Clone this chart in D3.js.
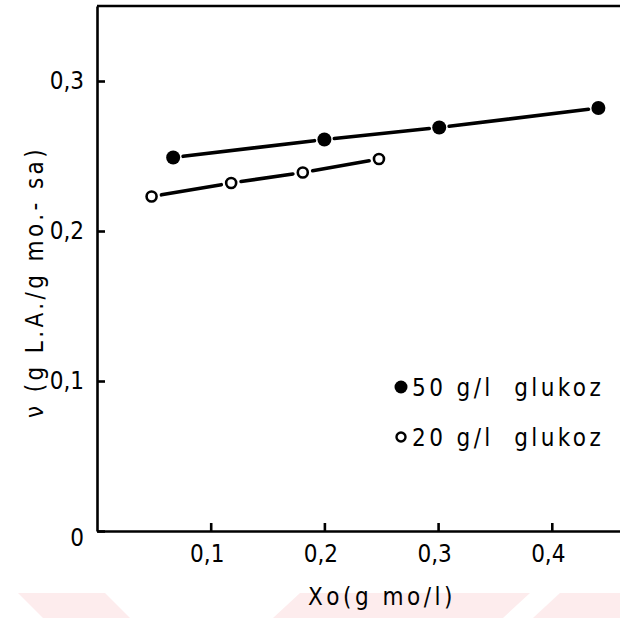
<!DOCTYPE html>
<html>
<head>
<meta charset="utf-8">
<script src="https://cdn.jsdelivr.net/npm/d3@7"></script>
<style>
  body { margin: 0; background: #fff; }
  svg { display: block; }
  text { font-family: "DejaVu Sans Condensed", "DejaVu Sans", sans-serif; fill: #000; }
</style>
</head>
<body>
<div id="chart"></div>
<script>
// values
var xTicks = [0.1, 0.2, 0.3, 0.4];
var yTicks = [0, 0.1, 0.2, 0.3];

var series50 = { label: "50 g/l  glukoz", filled: true,
    x: [0.067, 0.200, 0.301, 0.441],
    y: [0.249, 0.261, 0.269, 0.282] };
var series20 = { label: "20 g/l  glukoz", filled: false,
    x: [0.048, 0.118, 0.181, 0.248],
    y: [0.223, 0.232, 0.239, 0.248] };

var config = {
    width: 620,
    height: 618,
    left: 97,
    bottom: 531,
    top: 6,
    gap: 10,
    font: "'DejaVu Sans Condensed', 'DejaVu Sans', sans-serif",
    pink: "#fdeced"
};

// faint watermark strip at the bottom of the scan (page decoration, not data)
var watermark = [
    [[18, 593], [105, 593], [130, 618], [43, 618]],
    [[300, 593], [530, 593], [503, 618], [273, 618]],
    [[560, 593], [620, 593], [620, 618], [533, 618]]
];

var comma = function (d) { return d === 0 ? "0" : d3.format(".1f")(d).replace(".", ","); };

var svg = d3.select("#chart").append("svg")
    .attr("width", config.width)
    .attr("height", config.height);

svg.selectAll(".wm").data(watermark).enter().append("polygon")
    .attr("points", function (d) { return d.join(" "); })
    .attr("fill", config.pink);

var x = d3.scaleLinear().domain([0, 0.46]).range([config.left, config.width]);
var y = d3.scaleLinear().domain([0, 0.35]).range([config.bottom, config.top]);

// frame: top line
svg.append("line")
    .attr("x1", x(0)).attr("x2", x(0.46))
    .attr("y1", y(0.35)).attr("y2", y(0.35))
    .attr("stroke", "#000").attr("stroke-width", 2.6);

var yAxis = svg.append("g")
    .attr("transform", "translate(" + x(0) + ",0)")
    .call(d3.axisLeft(y).tickValues(yTicks).tickSize(-8).tickPadding(13)
        .tickSizeOuter(0).tickFormat(comma));
var xAxis = svg.append("g")
    .attr("transform", "translate(0," + y(0) + ")")
    .call(d3.axisBottom(x).tickValues(xTicks).tickSize(-8).tickPadding(14)
        .tickSizeOuter(0).tickFormat(comma));

[yAxis, xAxis].forEach(function (g) {
    g.select(".domain").attr("stroke", "#000").attr("stroke-width", 2.6);
    g.selectAll(".tick line").attr("stroke", "#000").attr("stroke-width", 2.6);
    g.selectAll(".tick text")
        .style("font-family", config.font)
        .style("font-size", "24px")
        .attr("fill", "#000");
});
yAxis.selectAll(".tick text").filter(function (d) { return d === 0; }).attr("dy", "0.6em");
xAxis.selectAll(".tick text").attr("dx", "-4");

// series: hand drawn segments stopping short of each marker
function drawSeries(s) {
    var pts = s.x.map(function (v, i) { return [x(v), y(s.y[i])]; });
    var segs = d3.pairs(pts).map(function (p) {
        var dx = p[1][0] - p[0][0], dy = p[1][1] - p[0][1];
        var len = Math.sqrt(dx * dx + dy * dy);
        var ux = dx / len, uy = dy / len;
        return [p[0][0] + ux * config.gap, p[0][1] + uy * config.gap,
                p[1][0] - ux * config.gap, p[1][1] - uy * config.gap];
    });
    svg.selectAll(null).data(segs).enter().append("line")
        .attr("x1", function (d) { return d[0]; })
        .attr("y1", function (d) { return d[1]; })
        .attr("x2", function (d) { return d[2]; })
        .attr("y2", function (d) { return d[3]; })
        .attr("stroke", "#000").attr("stroke-width", 3.6)
        .attr("stroke-linecap", "round");
    svg.selectAll(null).data(pts).enter().append("circle")
        .attr("cx", function (d) { return d[0]; })
        .attr("cy", function (d) { return d[1]; })
        .attr("r", s.filled ? 7 : 5)
        .attr("fill", s.filled ? "#000" : "#fff")
        .attr("stroke", "#000")
        .attr("stroke-width", s.filled ? 0 : 2.6);
}
drawSeries(series50);
drawSeries(series20);

// legend
var legend = svg.selectAll(".legend").data([series50, series20]).enter().append("g")
    .attr("transform", function (d, i) { return "translate(401," + (387 + i * 50) + ")"; });
legend.append("circle")
    .attr("r", function (d) { return d.filled ? 6.5 : 4.5; })
    .attr("fill", function (d) { return d.filled ? "#000" : "#fff"; })
    .attr("stroke", "#000")
    .attr("stroke-width", function (d) { return d.filled ? 0 : 2.4; });
legend.append("text")
    .attr("x", 11).attr("y", 9)
    .style("font-size", "24px")
    .style("letter-spacing", "3.4px")
    .style("white-space", "pre")
    .text(function (d) { return d.label; });

// axis titles
svg.append("text")
    .attr("x", 382).attr("y", 605)
    .attr("text-anchor", "middle")
    .style("font-size", "24px")
    .style("letter-spacing", "3.5px")
    .text("Xo(g mo/l)");
svg.append("text")
    .attr("transform", "translate(43,282) rotate(-90)")
    .attr("text-anchor", "middle")
    .style("font-size", "24px")
    .style("letter-spacing", "3.4px")
    .style("white-space", "pre")
    .text("\u03bd (g L.A./g mo.- sa)");
</script>
</body>
</html>
